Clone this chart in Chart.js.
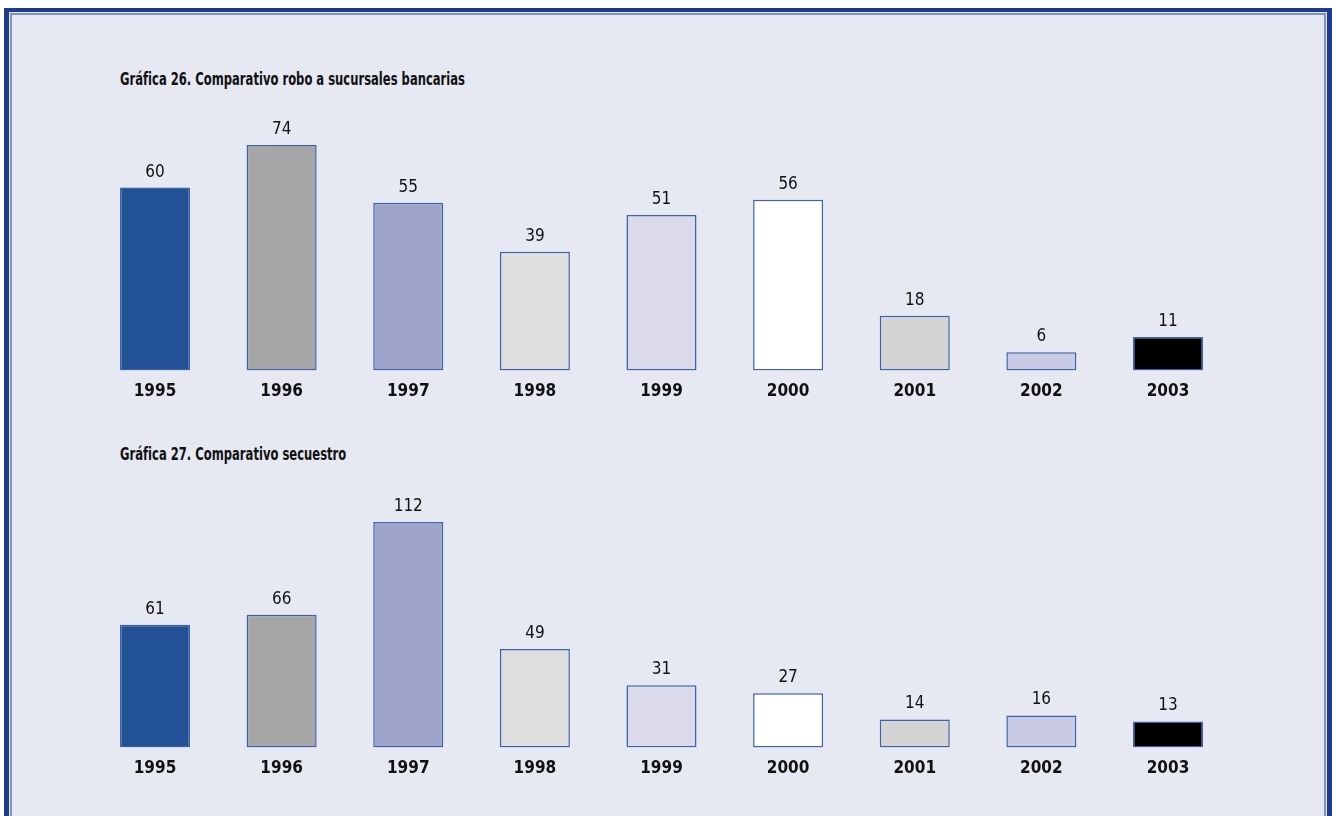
<!DOCTYPE html>
<html lang="es">
<head>
<meta charset="UTF-8">
<title>Comparativo</title>
<script src="https://cdn.jsdelivr.net/npm/chart.js"></script>
<style>
  body { margin: 0; background: #ffffff; width: 1332px; height: 816px; overflow: hidden; position: relative; }
  .frame { position: absolute; left: 4px; top: 8px; width: 1318px; height: 830px;
           border: 5px solid #1f3b8e; border-top-width: 4px; border-bottom: none; background: #e6e8f2; }
  .inner { position: absolute; left: 1px; top: 1px; right: 1px; bottom: 0;
           border: 2px solid #7d92c6; border-bottom: none; }
  .title { position: absolute; left: 120px; white-space: nowrap; transform: scaleX(0.757); transform-origin: left center;
           font: bold 17px "Liberation Sans Narrow", "DejaVu Sans Condensed", sans-serif; color: #111; }
  canvas { position: absolute; left: 0; }
</style>
</head>
<body>
<div class="frame"><div class="inner"></div></div>
<div class="title" style="top: 69px;">Gráfica 26. Comparativo robo a sucursales bancarias</div>
<div class="title" style="top: 444px;">Gráfica 27. Comparativo secuestro</div>
<canvas id="chart1" width="1332" height="313" style="top: 100px;"></canvas>
<canvas id="chart2" width="1332" height="310" style="top: 480px;"></canvas>

<script>
  const years = ["1995", "1996", "1997", "1998", "1999", "2000", "2001", "2002", "2003"];
  const roboBancos = [60, 74, 55, 39, 51, 56, 18, 6, 11];
  const secuestro = [61, 66, 112, 49, 31, 27, 14, 16, 13];
  const barColors = ["#235196", "#a6a6a6", "#9fa4cb", "#dedede", "#dadaea", "#ffffff", "#d4d4d4", "#c9cae3", "#000000"];

  const FONT = "'Liberation Sans Narrow', 'DejaVu Sans Condensed', sans-serif";

  // etiquetas de valor encima de cada barra
  const valueLabels = {
    id: "valueLabels",
    afterDatasetsDraw(chart) {
      const ctx = chart.ctx;
      const meta = chart.getDatasetMeta(0);
      const data = chart.data.datasets[0].data;
      ctx.save();
      ctx.font = "17px " + FONT;
      ctx.fillStyle = "#111";
      ctx.textAlign = "center";
      ctx.textBaseline = "alphabetic";
      meta.data.forEach((bar, i) => {
        ctx.fillText(String(data[i]), bar.x, bar.y - 11);
      });
      ctx.restore();
    }
  };

  function makeChart(id, values, maxY, padTop) {
    return new Chart(document.getElementById(id), {
      type: "bar",
      data: {
        labels: years,
        datasets: [{
          data: values,
          backgroundColor: barColors,
          borderColor: "#3a62ad",
          borderWidth: 1.5,
          borderSkipped: false,
          categoryPercentage: 1,
          barPercentage: 0.553
        }]
      },
      options: {
        responsive: false,
        animation: false,
        events: [],
        layout: { padding: { left: 91.7, right: 100.7, top: padTop, bottom: 0 } },
        plugins: { legend: { display: false }, tooltip: { enabled: false } },
        scales: {
          x: {
            grid: { display: false, drawTicks: false },
            border: { display: false },
            ticks: { color: "#111", font: { family: FONT, size: 17, weight: "bold" }, padding: 11 }
          },
          y: { display: false, min: 0, max: maxY }
        }
      },
      plugins: [valueLabels]
    });
  }

  makeChart("chart1", roboBancos, 80, 26.6);
  makeChart("chart2", secuestro, 120, 26);
</script>
</body>
</html>
